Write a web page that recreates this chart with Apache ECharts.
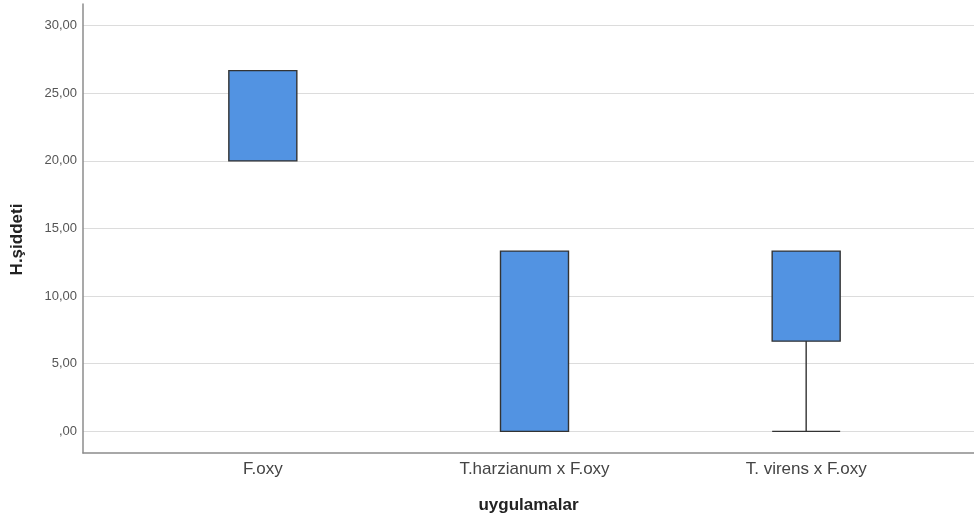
<!DOCTYPE html>
<html>
<head>
<meta charset="utf-8">
<script src="https://cdn.jsdelivr.net/npm/echarts@6/dist/echarts.min.js"></script>
<style>
  html, body { margin: 0; padding: 0; background: #fff; }
  #chart { width: 974px; height: 519px; }
</style>
</head>
<body>
<div id="chart"></div>
<script>
// uygulamalar (treatments)
const categories = ['F.oxy', 'T.harzianum x F.oxy', 'T. virens x F.oxy'];
// five-number summaries of H.şiddeti
const mins    = [20.00,  0.00,  0.00];
const q1s     = [20.00,  0.00,  6.67];
const medians = [26.67, 13.33, 13.33];
const q3s     = [26.67, 13.33, 13.33];
const maxs    = [26.67, 13.33, 13.33];

const yTicks = [0, 5, 10, 15, 20, 25, 30];
const yTickLabels = [',00', '5,00', '10,00', '15,00', '20,00', '25,00', '30,00'];

const boxData = categories.map((c, i) => [mins[i], q1s[i], medians[i], q3s[i], maxs[i]]);

const yMin = -1.6, yMax = 31.6;

const myChart = echarts.init(document.getElementById('chart'));
const option = {
  animation: false,
  textStyle: { fontFamily: 'Liberation Sans, Arial, sans-serif' },
  grid: [
    { left: 127, right: 32, top: 4, bottom: 66, outerBoundsMode: 'none', containLabel: false },
    { left: 83, right: 0, top: 4, bottom: 66, outerBoundsMode: 'none', containLabel: false }
  ],
  xAxis: [
    {
      type: 'category',
      gridIndex: 0,
      data: categories,
      axisLine: { show: false },
      axisTick: { show: false },
      splitLine: { show: false },
      axisLabel: { color: '#444', fontSize: 17, margin: 8 }
    },
    {
      type: 'value',
      gridIndex: 1,
      min: 0,
      max: 1,
      axisLine: { show: true, onZero: false, lineStyle: { color: '#8c8c8c', width: 1.5 } },
      axisTick: { show: false },
      axisLabel: { show: false },
      splitLine: { show: false },
      name: 'uygulamalar',
      nameLocation: 'middle',
      nameGap: 44,
      nameTextStyle: { color: '#222', fontSize: 17, fontWeight: 'bold' }
    }
  ],
  yAxis: [
    {
      type: 'value',
      gridIndex: 0,
      min: yMin,
      max: yMax,
      show: false
    },
    {
      type: 'value',
      gridIndex: 1,
      min: yMin,
      max: yMax,
      axisLine: { show: true, onZero: false, lineStyle: { color: '#8c8c8c', width: 1.5 } },
      axisTick: { show: false, customValues: yTicks },
      axisLabel: {
        customValues: yTicks,
        color: '#555',
        fontSize: 13,
        margin: 6,
        formatter: (v) => yTickLabels[yTicks.indexOf(v)]
      },
      splitLine: { show: true, lineStyle: { color: '#dcdcdc', width: 1.2 } },
      name: 'H.şiddeti',
      nameLocation: 'middle',
      nameGap: 57,
      nameTextStyle: { color: '#222', fontSize: 17, fontWeight: 'bold', padding: [0, 22, 0, 0] }
    }
  ],
  series: [{
    type: 'boxplot',
    xAxisIndex: 0,
    yAxisIndex: 0,
    data: boxData,
    boxWidth: [68, 68],
    itemStyle: { color: '#5293e2', borderColor: '#333', borderWidth: 1.4 }
  }]
};

myChart.setOption(option);
</script>
</body>
</html>
